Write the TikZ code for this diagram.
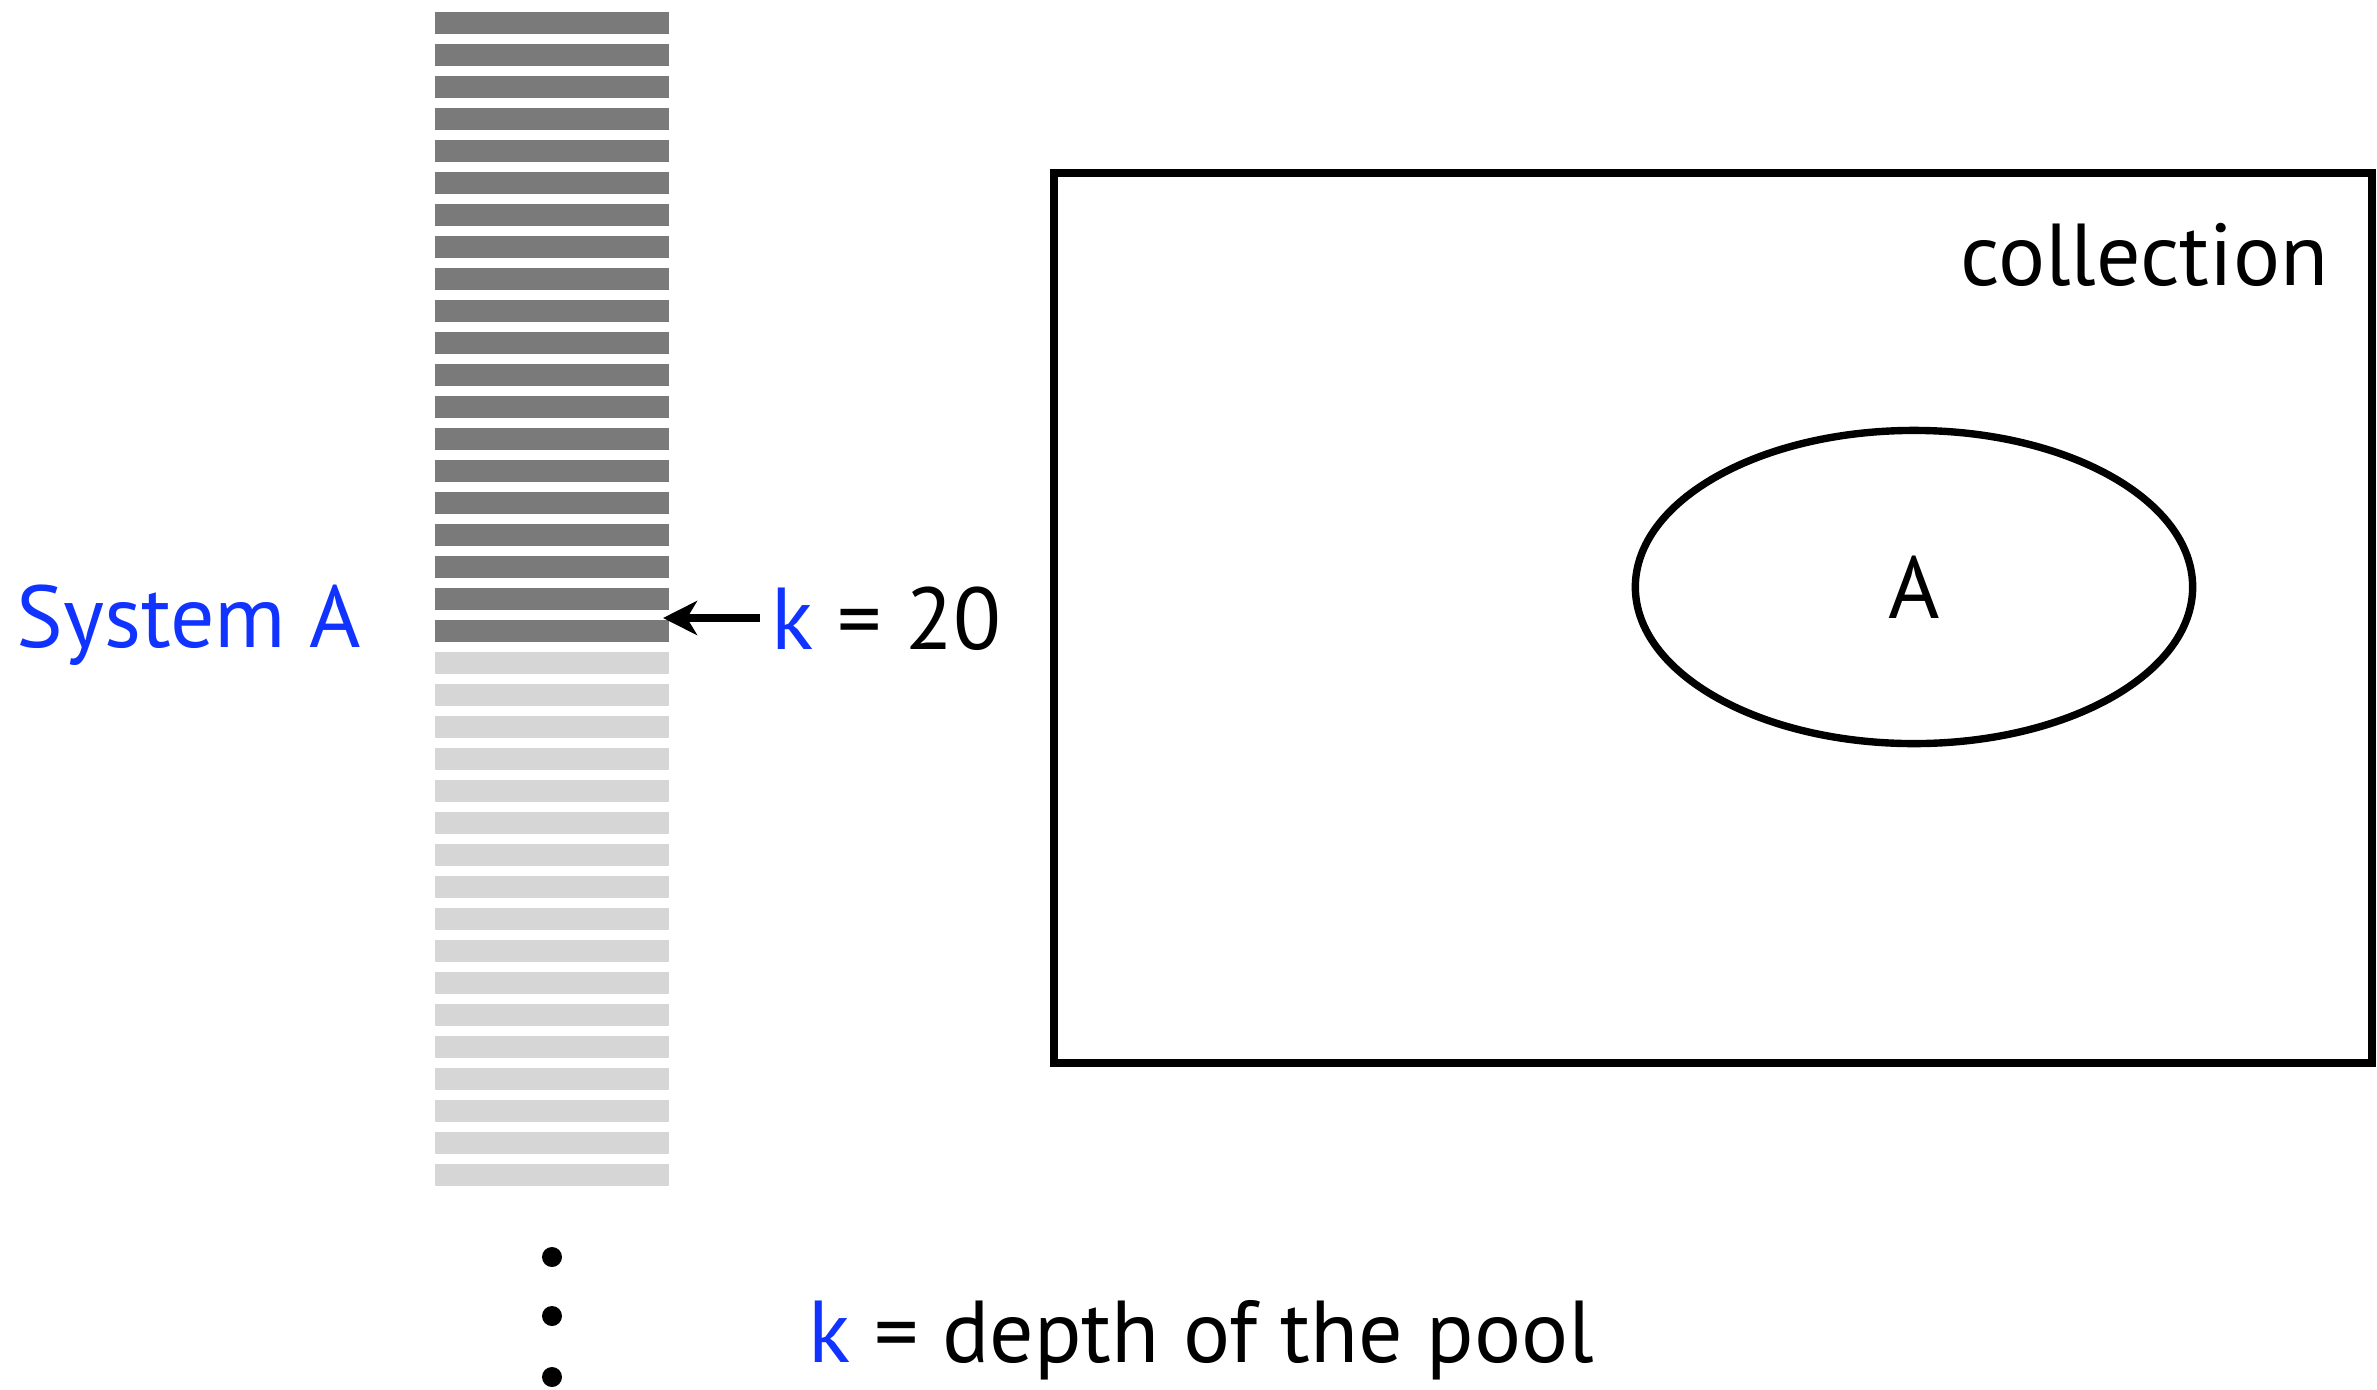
\documentclass[tikz,border=0pt]{standalone}
\usepackage{fontspec}
\setmainfont{PT Sans}
\usetikzlibrary{arrows.meta,shapes.geometric}
\definecolor{sysblue}{RGB}{16,51,255}
\definecolor{bardark}{RGB}{122,122,122}
\definecolor{barlight}{RGB}{214,214,214}

\begin{document}
\begin{tikzpicture}[x=0.01cm,y=-0.01cm,
	label/.style={inner sep=0pt,font=\fontsize{25}{30}\selectfont},
	pointer/.style={line width=2.2pt,-{Stealth[length=0.34cm,width=0.34cm,inset=0.1cm]}}]
	\useasboundingbox (0,0) rectangle (2377,1390);
	% the pool
	\foreach \i in {0,...,36} {
		\pgfmathsetmacro{\top}{12.3+32*\i}
		\ifnum\i<20 \def\barcol{bardark}\else\def\barcol{barlight}\fi
		\fill[\barcol] (435,\top) rectangle (669,\top+21.5);
	}
	\foreach \y in {1257,1316,1377} \fill (552,\y) circle (10);
	\node[label,anchor=base west,text=sysblue] (sys) at (16,647) {System A};
	\node[label,anchor=base west] (kval) at (771,649) {\textcolor{sysblue}{k} = 20};
	\coordinate (tip) at (663,618);
	\draw[pointer] (kval.west |- tip) ++(-11,0) -- (tip);
	\node[label,anchor=base west] (legend) at (808,1362) {\textcolor{sysblue}{k} = depth of the pool};
	% the collection
	\node[draw,line width=2.3pt,minimum width=13.18cm,minimum height=8.9cm] (coll) at (1713,618) {};
	\node[label,anchor=base east] (colltext) at (2329,285) {collection};
	\node[label,draw,ellipse,line width=2.1pt,minimum width=5.57cm,minimum height=3.13cm] (setA) at (1914,587) {A};
\end{tikzpicture}
\end{document}
